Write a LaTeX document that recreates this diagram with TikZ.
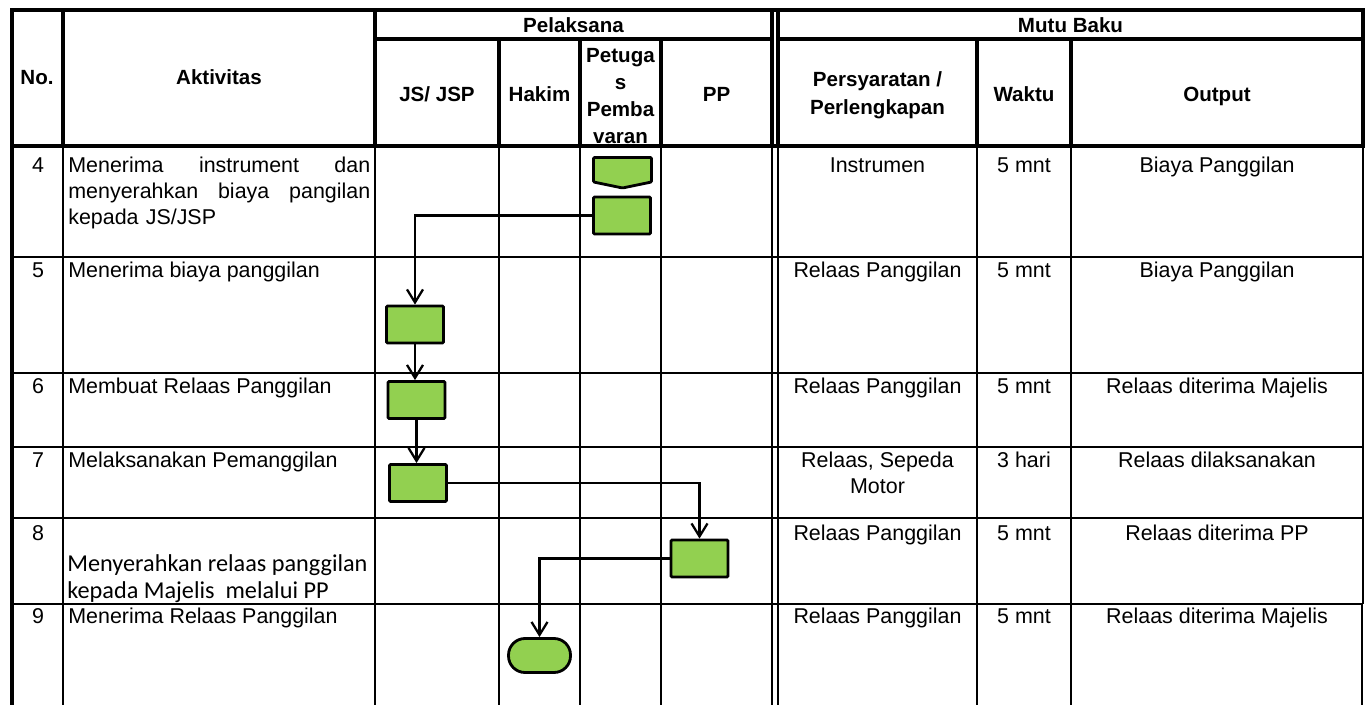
\documentclass[tikz,border=0pt]{standalone}
\usepackage{fontspec}
\setmainfont{Liberation Sans}
\newfontfamily\calibri{Carlito}
\usetikzlibrary{arrows.meta}
\definecolor{hijau}{HTML}{92D050}
\tikzset{>={Straight Barb[length=2.6mm,width=3.2mm,line width=1.3pt]}}
\tikzset{
  tebal/.style={line width=2.3pt},
  tipis/.style={line width=1.1pt},
  kotak/.style={draw, line width=1.6pt, fill=hijau, minimum width=1.14cm,
    minimum height=0.74cm, inner sep=0pt, rounded corners=0.6pt},
  ujung/.style={kotak, minimum width=1.24cm, minimum height=0.68cm, rounded corners=0.33cm},
  alur/.style={->, line width=1.2pt},
  judul/.style={font=\bfseries\fontsize{11.7}{14.4}\selectfont, align=center, inner sep=0pt},
  isi/.style={font=\fontsize{12.2}{14.7}\selectfont, align=center, inner sep=0pt},
}

\begin{document}
\begin{tikzpicture}[x=0.02cm, y=-0.02cm]
    \useasboundingbox (0,0) rectangle (1371,705);
    % judul kolom
    \node[judul, anchor=base] (hno) at (37,85) {No.};
    \node[judul, anchor=base] (hakt) at (219,85) {Aktivitas};
    \node[judul, anchor=base] (hpel) at (573.5,33) {Pelaksana};
    \node[judul, anchor=base] (hmutu) at (1070.5,33) {Mutu Baku};
    \node[judul, anchor=base] (hjs) at (437,102) {JS/ JSP};
    \node[judul, anchor=base] (hhakim) at (539.5,102) {Hakim};
    \node[judul, anchor=north, font=\bfseries\fontsize{11.7}{15.3}\selectfont] (hpetugas) at (620.5,48) {Petuga\\s\\Pemba\\varan};
    \node[judul, anchor=base] (hpp) at (716.5,102) {PP};
    \node[judul, anchor=north, font=\bfseries\fontsize{11.7}{15.9}\selectfont] (hsyarat) at (877.5,71) {Persyaratan /\\Perlengkapan};
    \node[judul, anchor=base] (hwaktu) at (1024,102) {Waktu};
    \node[judul, anchor=base] (hout) at (1217,102) {Output};

    % isi baris
    \foreach \n/\y/\akt/\syarat/\waktu/\hasil in {
        4/173/{}/{Instrumen}/{5 mnt}/{Biaya Panggilan},
        5/278/{Menerima biaya panggilan}/{Relaas Panggilan}/{5 mnt}/{Biaya Panggilan},
        6/394/{Membuat Relaas Panggilan}/{Relaas Panggilan}/{5 mnt}/{Relaas diterima Majelis},
        7/468/{Melaksanakan Pemanggilan}/{Relaas, Sepeda\\Motor}/{3 hari}/{Relaas dilaksanakan},
        8/541/{}/{Relaas Panggilan}/{5 mnt}/{Relaas diterima PP},
        9/624/{Menerima Relaas Panggilan}/{Relaas Panggilan}/{5 mnt}/{Relaas diterima Majelis}} {
      \node[isi, anchor=north] (no\n) at (38,\y-16) {\n};
      \node[isi, anchor=north west] (akt\n) at (68,\y-16) {\akt};
      \node[isi, anchor=north] (syarat\n) at (877.5,\y-16) {\syarat};
      \node[isi, anchor=north] (waktu\n) at (1024,\y-16) {\waktu};
      \node[isi, anchor=north] (hasil\n) at (1217,\y-16) {\hasil};
    }
    \node[isi, anchor=north west, align=left, text width=6.04cm] (akt4b) at (68,157)
      {Menerima\hfill instrument\hfill dan\\menyerahkan\hfill biaya\hfill pangilan\\kepada JS/JSP};
    \node[anchor=north west, align=left, inner sep=0pt, font=\calibri\fontsize{13.8}{15.3}\selectfont] (akt8b) at (67,554)
      {Menyerahkan relaas panggilan\\kepada Majelis\ \ melalui PP};

    % garis tabel
    \draw[tebal] (10,10) -- (1365,10);
    \draw[tebal] (375,39) -- (772,39) (778,39) -- (1363,39);
    \foreach \x in {12,63,375,772,778,1363}
      \draw[tebal] (\x,10) -- (\x,146);
    \foreach \x in {499,580,661,977,1071}
      \draw[tebal] (\x,39) -- (\x,146);
    \foreach \x in {63,375,499,580,661,772,778,977,1071}
      \draw[tipis] (\x,146) -- (\x,705);
    \foreach \y in {257,373,447,518,604}
      \draw[tipis] (12,\y) -- (1363,\y);
    \draw[tebal] (12,146) -- (12,705);
    \draw[line width=1.6pt] (1363,146) -- (1363,604);
    \draw[tipis] (1362,604) -- (1362,705);
    \draw[tebal] (10,146) -- (1365,146);

    % bagan alir
    \draw[kotak] (593.5,157.5) -- (651.5,157.5) -- (651.5,182) -- (622.5,188) -- (593.5,182) -- cycle;
    \node[kotak] (bayar) at (622,215.5) {};
    \node[kotak] (terima) at (415,324.5) {};
    \node[kotak] (relaas) at (416.5,400) {};
    \node[kotak] (panggil) at (418,483) {};
    \node[kotak] (serah) at (699.5,558.5) {};
    \node[ujung] (selesai) at (539.5,655.5) {};
    \draw[alur] (bayar.west) -| (terima.north);
    \draw[alur] (terima.south) -- (terima.south |- relaas.north);
    \draw[alur] (relaas.south) -- (relaas.south |- panggil.north);
    \draw[alur] (panggil.east) -| (serah.north);
    \draw[alur] (serah.west) -| (selesai.north);
\end{tikzpicture}
\end{document}
